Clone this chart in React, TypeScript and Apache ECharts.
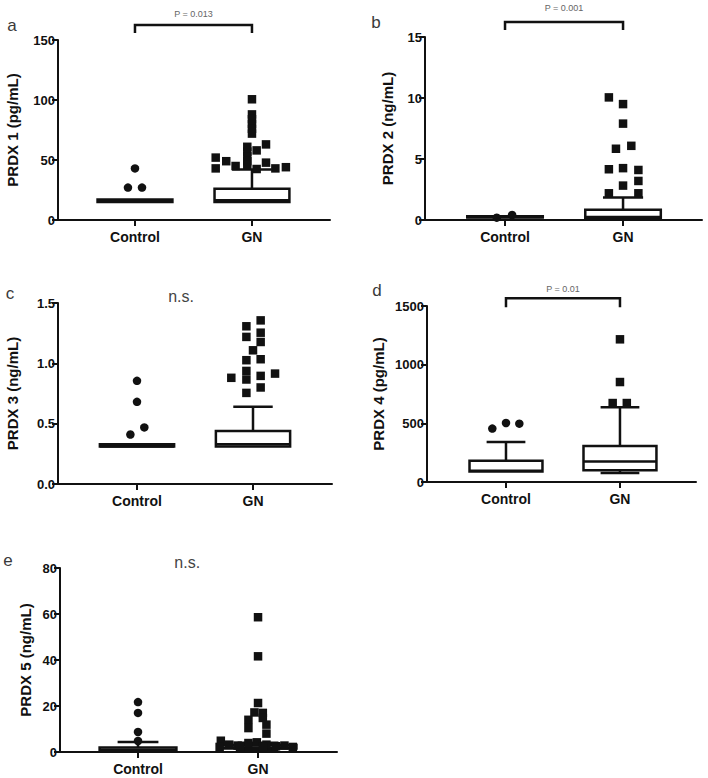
import React, { useEffect, useRef } from "react";
import * as echarts from "echarts";

const CATEGORIES = ["Control", "GN"];

// Box statistics: [min, q1, median, q3, max]
const PRDX1_BOX_CONTROL = [15, 15, 16, 17, 17];
const PRDX1_BOX_GN = [15, 15, 16.5, 26, 42];
const PRDX2_BOX_CONTROL = [0.2, 0.2, 0.25, 0.3, 0.3];
const PRDX2_BOX_GN = [0.15, 0.15, 0.25, 0.85, 1.85];
const PRDX3_BOX_CONTROL = [0.31, 0.31, 0.31, 0.33, 0.33];
const PRDX3_BOX_GN = [0.31, 0.31, 0.33, 0.44, 0.64];
const PRDX4_BOX_CONTROL = [89, 89, 95, 182, 340];
const PRDX4_BOX_GN = [77, 100, 174, 306, 637];
const PRDX5_BOX_CONTROL = [0.5, 0.5, 1, 2, 4.4];
const PRDX5_BOX_GN = [1, 1.5, 2, 3, 4];

// Outliers: [jitter offset from group, value]
const PRDX1_OUT_CONTROL = [[0, 43], [-0.06, 27], [0.06, 27]];
const PRDX1_OUT_GN = [
  [0, 100.6], [0, 88], [0, 84], [0, 80], [0, 76], [0, 72],
  [-0.04, 61], [-0.04, 57], [-0.04, 53], [-0.04, 49], [-0.04, 46],
  [0.04, 58], [0.12, 63], [-0.31, 52], [-0.31, 43], [-0.22, 49],
  [-0.14, 45], [0.04, 42.5], [0.12, 47.8], [0.2, 43], [0.29, 44],
];
const PRDX2_OUT_CONTROL = [[-0.07, 0.19], [0.06, 0.41]];
const PRDX2_OUT_GN = [
  [-0.12, 10.05], [0, 9.5], [0, 7.9], [-0.06, 5.84], [0.07, 6.08],
  [-0.12, 4.16], [0, 4.25], [0.13, 4.1], [0, 2.82], [0.13, 3.2],
  [-0.12, 2.19], [0.13, 2.19],
];
const PRDX3_OUT_CONTROL = [[0, 0.855], [0, 0.681], [-0.057, 0.41], [0.063, 0.469]];
const PRDX3_OUT_GN = [
  [0.066, 1.356], [-0.057, 1.307], [0.066, 1.254], [-0.057, 1.219],
  [0.066, 1.177], [0, 1.108], [-0.057, 1.026], [0.066, 1.034],
  [-0.057, 0.937], [0.19, 0.915], [0.066, 0.896], [-0.187, 0.88],
  [-0.057, 0.866], [0.066, 0.8], [-0.057, 0.755],
];
const PRDX4_OUT_CONTROL = [[-0.12, 455], [0, 503], [0.117, 497]];
const PRDX4_OUT_GN = [[0, 1216], [0, 852], [-0.064, 673], [0.06, 673]];
const PRDX5_OUT_CONTROL = [[0, 21.7], [0, 17], [0, 8.7], [0, 4.8]];
const PRDX5_OUT_GN = [
  [0, 58.6], [0, 41.6], [0, 21.3], [-0.03, 17.2], [0.04, 17], [0.04, 14.8],
  [-0.08, 14], [-0.08, 10.4], [0.07, 11.9], [0.07, 8],
  [-0.31, 4.9], [-0.24, 3.2], [-0.17, 2.8], [-0.08, 3.9], [-0.01, 4.2],
  [0.07, 3.2], [0.15, 2.5], [0.22, 2.8], [0.29, 2.2], [-0.32, 2.2],
  [-0.15, 2.2], [0.04, 2.2],
];

const Y_TITLES = ["PRDX 1 (pg/mL)", "PRDX 2 (ng/mL)", "PRDX 3 (ng/mL)", "PRDX 4 (pg/mL)", "PRDX 5 (ng/mL)"];
const Y_MAX = [150, 15, 1.5, 1500, 80];
const Y_INTERVAL = [50, 5, 0.5, 500, 20];
const P_LABELS = ["P = 0.013", "P = 0.001", "n.s.", "P = 0.01", "n.s."];
const PANEL_LETTERS = ["a", "b", "c", "d", "e"];

const FONT = "'Liberation Sans', Arial, sans-serif";
const INK = "#111111";
const BOX_HALF = 0.32;
const CAP_HALF = 0.17;

const LAYOUT = [
  { left: 58, top: 40, width: 272, height: 180, xMin: -0.658, xMax: 1.667, nameGap: 38, letter: [12, 25], bracket: [162.5, 155.8], textPos: [0.5, 171.7], decimals: 0 },
  { left: 425, top: 37, width: 277, height: 183, xMin: -0.678, xMax: 1.669, nameGap: 30, letter: [376, 22], bracket: [16.23, 15.57], textPos: [0.5, 17.4], decimals: 0 },
  { left: 58, top: 303, width: 274, height: 181, xMin: -0.681, xMax: 1.681, nameGap: 38, letter: [10, 293], bracket: null, textPos: [0.38, 1.55], decimals: 1 },
  { left: 427, top: 306, width: 269, height: 176, xMin: -0.693, xMax: 1.667, nameGap: 41, letter: [377, 290], bracket: [1566, 1489], textPos: [0.5, 1643], decimals: 0 },
  { left: 60, top: 568, width: 277, height: 184, xMin: -0.65, xMax: 1.658, nameGap: 27, letter: [8, 560], bracket: null, textPos: [0.41, 82.6], decimals: 0 },
];

const BOXES = [
  [PRDX1_BOX_CONTROL, PRDX1_BOX_GN],
  [PRDX2_BOX_CONTROL, PRDX2_BOX_GN],
  [PRDX3_BOX_CONTROL, PRDX3_BOX_GN],
  [PRDX4_BOX_CONTROL, PRDX4_BOX_GN],
  [PRDX5_BOX_CONTROL, PRDX5_BOX_GN],
];
const OUTLIERS = [
  [PRDX1_OUT_CONTROL, PRDX1_OUT_GN],
  [PRDX2_OUT_CONTROL, PRDX2_OUT_GN],
  [PRDX3_OUT_CONTROL, PRDX3_OUT_GN],
  [PRDX4_OUT_CONTROL, PRDX4_OUT_GN],
  [PRDX5_OUT_CONTROL, PRDX5_OUT_GN],
];

function boxRender(params: any, api: any) {
  const x = api.value(0);
  const mn = api.value(1), q1 = api.value(2), md = api.value(3), q3 = api.value(4), mx = api.value(5);
  const cx = api.coord([x, q1])[0];
  const bl = api.coord([x - BOX_HALF, q1])[0];
  const br = api.coord([x + BOX_HALF, q1])[0];
  const cl = api.coord([x - CAP_HALF, q1])[0];
  const cr = api.coord([x + CAP_HALF, q1])[0];
  const yMin = api.coord([x, mn])[1];
  const yQ1 = api.coord([x, q1])[1];
  const yMd = api.coord([x, md])[1];
  const yQ3 = api.coord([x, q3])[1];
  const yMax = api.coord([x, mx])[1];
  const ls = { stroke: INK, lineWidth: 2.5 };
  const children: any[] = [];
  if (mx > q3) {
    children.push({ type: "line", shape: { x1: cx, y1: yQ3, x2: cx, y2: yMax }, style: ls });
    children.push({ type: "line", shape: { x1: cl, y1: yMax, x2: cr, y2: yMax }, style: ls });
  }
  if (mn < q1) {
    children.push({ type: "line", shape: { x1: cx, y1: yQ1, x2: cx, y2: yMin }, style: ls });
    children.push({ type: "line", shape: { x1: cl, y1: yMin, x2: cr, y2: yMin }, style: ls });
  }
  children.push({
    type: "rect",
    shape: { x: bl, y: yQ3, width: br - bl, height: Math.max(yQ1 - yQ3, 0.5) },
    style: { fill: "#fff", stroke: INK, lineWidth: 2.5 },
  });
  children.push({ type: "line", shape: { x1: bl, y1: yMd, x2: br, y2: yMd }, style: ls });
  return { type: "group", children };
}

export default function App() {
  const ref = useRef<HTMLDivElement>(null);
  useEffect(() => {
    if (!ref.current) return;
    const chart = echarts.init(ref.current, null, { renderer: "svg" });
    const grid: any[] = [];
    const xAxis: any[] = [];
    const yAxis: any[] = [];
    const series: any[] = [];
    const graphic: any[] = [];
    LAYOUT.forEach((L, i) => {
      grid.push({ left: L.left, top: L.top, width: L.width, height: L.height, containLabel: false, outerBoundsMode: "none" });
      xAxis.push({
        gridIndex: i,
        type: "value",
        min: L.xMin,
        max: L.xMax,
        splitLine: { show: false },
        axisLine: { show: true, onZero: false, lineStyle: { color: INK, width: 2 } },
        axisTick: { show: true, customValues: [0, 1], length: 6, lineStyle: { color: INK, width: 2 } },
        axisLabel: {
          show: true,
          customValues: [0, 1],
          formatter: (v: number) => CATEGORIES[Math.round(v)] ?? "",
          margin: 10,
          fontFamily: FONT,
          fontWeight: "bold",
          fontSize: 14,
          color: INK,
        },
      });
      yAxis.push({
        gridIndex: i,
        type: "value",
        min: 0,
        max: Y_MAX[i],
        interval: Y_INTERVAL[i],
        name: Y_TITLES[i],
        nameLocation: "middle",
        nameRotate: 90,
        nameGap: L.nameGap,
        nameTextStyle: { fontFamily: FONT, fontWeight: "bold", fontSize: 15, color: INK },
        splitLine: { show: false },
        axisLine: { show: true, onZero: false, lineStyle: { color: INK, width: 2 } },
        axisTick: { show: true, length: 6, lineStyle: { color: INK, width: 2 } },
        axisLabel: {
          margin: 3,
          fontFamily: FONT,
          fontWeight: "bold",
          fontSize: 13,
          color: INK,
          formatter: (v: number) => v.toFixed(L.decimals),
        },
      });
      series.push({
        type: "custom",
        xAxisIndex: i,
        yAxisIndex: i,
        renderItem: boxRender,
        data: BOXES[i].map((b, g) => [g, ...b]),
        z: 2,
      });
      OUTLIERS[i].forEach((pts, g) => {
        series.push({
          type: "scatter",
          xAxisIndex: i,
          yAxisIndex: i,
          symbol: g === 0 ? "circle" : "rect",
          symbolSize: 8.5,
          itemStyle: { color: INK, opacity: 1 },
          data: pts.map(([dx, v]) => [g + dx, v]),
          z: 3,
        });
      });
      const label = P_LABELS[i];
      const isP = label.startsWith("P");
      series.push({
        type: "custom",
        xAxisIndex: i,
        yAxisIndex: i,
        clip: false,
        silent: true,
        data: [[L.textPos[0], L.textPos[1], L.bracket ? L.bracket[0] : 0, L.bracket ? L.bracket[1] : 0]],
        renderItem: (params: any, api: any) => {
          const children: any[] = [];
          const tp = api.coord([api.value(0), api.value(1)]);
          if (L.bracket) {
            const top = api.value(2), foot = api.value(3);
            const a = api.coord([0, foot]);
            const b = api.coord([0, top]);
            const c = api.coord([1, top]);
            const d = api.coord([1, foot]);
            children.push({
              type: "polyline",
              shape: { points: [a, b, c, d] },
              style: { stroke: INK, lineWidth: 2.5, fill: null },
            });
          }
          children.push({
            type: "text",
            x: tp[0],
            y: tp[1],
            style: {
              text: label,
              fontFamily: FONT,
              fontSize: isP ? 9 : 16,
              fill: isP ? "#666" : "#444",
              align: "center",
              verticalAlign: "middle",
            },
          });
          return { type: "group", children };
        },
        z: 4,
      });
      graphic.push({
        type: "text",
        x: L.letter[0],
        y: L.letter[1],
        style: {
          text: PANEL_LETTERS[i],
          fontFamily: FONT,
          fontSize: 17,
          fill: "#3a3a3a",
          align: "center",
          verticalAlign: "middle",
        },
      });
    });
    chart.setOption({
      animation: false,
      backgroundColor: "#fff",
      grid,
      xAxis,
      yAxis,
      series,
      graphic,
    });
    return () => chart.dispose();
  }, []);
  return (
    <div
      ref={ref}
      style={{ position: "fixed", left: 0, top: 0, width: 708, height: 778, background: "#fff" }}
    />
  );
}
